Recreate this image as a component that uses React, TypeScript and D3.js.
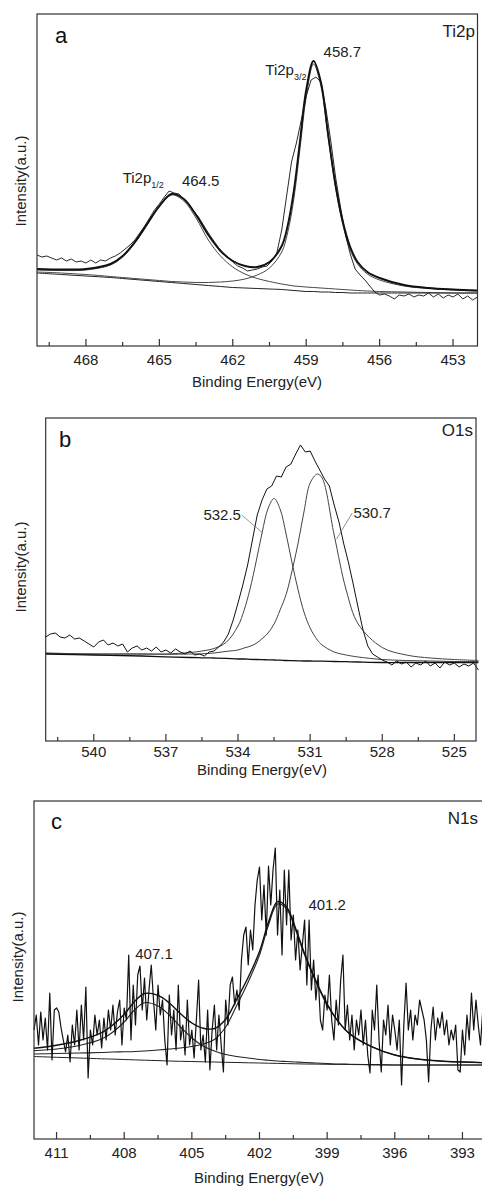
import React from 'react';
import * as d3 from 'd3';

// ---- (a) Ti2p ----
const tiRawStart = 470;
const tiRawStep = 0.2;
const tiRaw = [
  91, 89, 90, 88, 86, 88, 85, 87, 84, 85,
  83, 86, 83, 86, 85, 88, 90, 93, 97, 101,
  106, 113, 120, 128, 136, 142, 149, 155, 153, 152,
  147, 142, 135, 129, 121, 113, 106, 99, 93, 89,
  84, 80, 78, 75, 76, 77, 79, 80, 85, 93,
  116, 150, 184, 203, 226, 250, 266, 269, 264, 238,
  206, 169, 139, 112, 92, 77, 71, 66, 60, 54,
  51, 52, 50, 47, 51, 50, 52, 49, 51, 50,
  53, 49, 52, 48, 51, 49, 52, 47, 50, 46,
  49,
];
const tiFitBE = [470, 469, 468, 467, 466.5, 466, 465.5, 465, 464.5, 464, 463.5, 463, 462.5, 462, 461.5, 461, 460.5, 460, 459.75, 459.5, 459.25, 459, 458.7, 458.4, 458.1, 457.8, 457.5, 457.2, 456.9, 456.5, 456, 455, 454, 453, 452];
const tiEnvelope = [77, 76.5, 77, 82, 90, 104, 122, 140, 152, 147, 131, 111, 95, 85, 80, 79, 84, 100, 121, 156, 206, 256, 285, 264, 211, 161, 124, 99, 84, 74, 68, 61, 58, 56.5, 55.5];
const ti464 = [76, 75.5, 76, 81, 89, 103, 121, 139, 151, 145, 128, 106, 90, 79, 72, 67.5, 64.5, 62, 61, 60, 59.5, 59, 58.5, 58, 57.5, 57, 56.5, 56, 55.5, 55, 54.5, 54, 53.5, 53, 53];
const ti458 = [74, 73, 71.5, 69.5, 68.5, 67.5, 66.5, 65.5, 64.5, 64, 63.5, 63.5, 64, 65, 67, 71, 78, 94, 114, 148, 198, 249, 282, 260, 208, 158, 121, 96, 82, 72, 66, 60, 57.5, 56, 55];
const tiBackground = [73, 71.5, 70, 68.5, 67.5, 66.5, 65.5, 64.5, 63.5, 62.5, 61.5, 60.5, 59.5, 58.5, 58, 57.5, 57, 56.5, 56, 55.5, 55, 54.5, 54.5, 54, 54, 53.5, 53.5, 53, 53, 53, 53, 53, 53, 53, 53];
const tiTicks = [468, 465, 462, 459, 456, 453];
const tiMinor = [469.5, 466.5, 463.5, 460.5, 457.5, 454.5];

// ---- (b) O1s ----
const oRawStart = 542;
const oRawStep = 0.2;
const oRaw = [
  104, 107, 108, 104, 103, 106, 102, 103, 100, 97,
  94, 99, 101, 96, 98, 95, 97, 89, 93, 95,
  91, 93, 90, 94, 89, 91, 88, 92, 89, 87,
  90, 86, 87, 85, 89, 90, 94, 99, 107, 121,
  138, 156, 176, 201, 226, 241, 252, 255, 265, 264,
  274, 277, 287, 296, 289, 290, 280, 271, 262, 255,
  236, 219, 197, 178, 156, 133, 111, 95, 87, 84,
  81, 79, 76, 80, 77, 79, 74, 78, 76, 80,
  75, 78, 73, 79, 76, 78, 74, 77, 75, 78,
  71,
];
const oFitBE = [542, 540, 538, 537, 536, 535.5, 535, 534.5, 534, 533.75, 533.5, 533.25, 533, 532.75, 532.5, 532.25, 532, 531.75, 531.5, 531.25, 531, 530.7, 530.5, 530, 529.5, 529, 528, 527, 526, 525, 524];
const o532 = [88, 87, 87, 87, 88.5, 90, 92.5, 98.5, 115, 130.5, 152, 179, 208, 232.5, 242.5, 232, 207, 178, 151, 128.5, 113, 101, 96, 89, 86, 84, 81.5, 80.5, 80, 79.5, 79.5];
const o530 = [87.7, 87, 87, 86.7, 87, 87.2, 88, 89.6, 91, 93, 94.7, 97.5, 102.3, 108, 117, 131, 146.5, 170.4, 198, 230, 258, 267, 263, 206, 151, 117, 93.5, 86, 83, 81.5, 80.5];
const oBackground = [87, 86, 85, 84.2, 83.5, 83.2, 83, 82.6, 82, 82, 81.7, 81.5, 81.3, 81.2, 81, 80.9, 80.5, 80.4, 80.2, 80, 80, 79.9, 79.8, 79.5, 79.3, 79, 78.5, 78.5, 78.5, 78.5, 78.5];
const oTicks = [540, 537, 534, 531, 528, 525];
const oMinor = [541.5, 538.5, 535.5, 532.5, 529.5, 526.5];

// ---- (c) N1s ----
const nRawStart = 412;
const nRawStep = 0.1;
const nRaw = [
  110, 125, 95, 128, 100, 122, 90, 147, 80, 130,
  132, 128, 112, 100, 88, 105, 78, 115, 95, 130,
  90, 135, 100, 153, 62, 110, 95, 125, 105, 120,
  92, 122, 100, 130, 110, 135, 105, 128, 140, 95,
  132, 120, 185, 100, 155, 115, 165, 174, 130, 162,
  120, 150, 175, 140, 110, 155, 125, 140, 100, 75,
  145, 105, 130, 90, 155, 100, 115, 85, 140, 95,
  110, 82, 120, 160, 90, 105, 78, 130, 70, 110,
  135, 90, 125, 95, 68, 140, 115, 155, 163, 135,
  150, 130, 180, 205, 213, 175, 210, 190, 235, 260,
  273, 220, 255, 205, 274, 235, 270, 292, 205, 250,
  185, 270, 215, 270, 200, 225, 180, 210, 170, 195,
  220, 155, 220, 150, 180, 140, 165, 120, 110, 145,
  130, 165, 120, 100, 140, 115, 160, 185, 110, 135,
  100, 125, 90, 120, 105, 130, 95, 120, 85, 67,
  130, 110, 155, 100, 68, 120, 105, 135, 95, 125,
  110, 90, 120, 55, 115, 157, 110, 130, 100, 125,
  115, 140, 130, 120, 100, 58, 110, 133, 100, 122,
  112, 128, 105, 120, 95, 110, 100, 115, 70, 68,
  110, 85, 125, 100, 147, 110, 140, 115, 95, 130,
  110,
];
const nFitBE = [412, 411, 410, 409, 408.5, 408, 407.5, 407.1, 406.5, 406, 405.5, 405, 404.5, 404, 403.5, 403, 402.5, 402, 401.6, 401.2, 400.8, 400.4, 400, 399.5, 399, 398.5, 398, 397, 396, 395, 394, 393, 392];
const nEnvelope = [91.8, 94.8, 99.5, 107.3, 115.1, 125.7, 139.4, 146.5, 144.6, 137, 126.3, 117, 111.8, 111.5, 120.8, 141, 162.8, 188.5, 217.9, 238.4, 233.1, 211.8, 186.5, 159.1, 135.8, 118.4, 106.3, 93.2, 85, 81, 79, 78, 77.3];
const n407 = [89.3, 91, 94.5, 101, 108, 118, 131, 137.3, 134, 125, 113, 102, 94, 89, 85.5, 83.5, 82, 80.5, 79.7, 79, 78.5, 78, 77.5, 77, 76.5, 76, 75.8, 75.4, 75, 75, 75, 75, 75];
const n401 = [86, 86.5, 87, 87.5, 88, 88.2, 88.5, 89, 90, 91, 92, 93.5, 96, 100.5, 113, 135, 158, 185, 215, 236, 231, 210, 185, 158, 135, 118, 106, 93, 85, 81, 79, 78, 77.3];
const nBackground = [83.5, 82.7, 82, 81.2, 80.9, 80.5, 80.1, 79.8, 79.4, 79, 78.7, 78.5, 78.2, 78, 77.7, 77.5, 77.2, 77, 76.8, 76.6, 76.4, 76.2, 76, 75.9, 75.7, 75.6, 75.5, 75.2, 75, 75, 75, 75, 75];
const nTicks = [411, 408, 405, 402, 399, 396, 393];
const nMinor = [409.5, 406.5, 403.5, 400.5, 397.5, 394.5];

const FONT = '"Liberation Sans", Arial, Helvetica, sans-serif';
const INK = '#222';

type Fit = { v: number[]; color: string; width: number };
type PeakLabel = { be: number; v: number; text: string; sub?: string };
type Leader = { from: [number, number]; to: [number, number] };

type PanelSpec = {
  box: { left: number; top: number; right: number; bottom: number };
  xDomain: [number, number];
  yDomain: [number, number];
  raw: number[];
  rawStart: number;
  rawStep: number;
  rawWidth: number;
  fitBE: number[];
  fits: Fit[];
  ticks: number[];
  minor: number[];
  letter: string;
  letterPos: [number, number];
  element: string;
  elementPos: [number, number];
  tickBaseline: number;
  titleBaseline: number;
  titleX: number;
  yLabelPos: [number, number];
  peaks: PeakLabel[];
  leaders: Leader[];
};

const Panel = ({ p }: { p: PanelSpec }) => {
  const { left, top, right, bottom } = p.box;
  const x = d3.scaleLinear().domain(p.xDomain).range([left, right]);
  const y = d3.scaleLinear().domain(p.yDomain).range([bottom, top]);

  const rawPts: [number, number][] = p.raw.map((v, i) => [+(p.rawStart - i * p.rawStep).toFixed(2), v]);
  const lineRaw = d3.line<[number, number]>().x(d => x(d[0])).y(d => y(d[1]));
  const lineFit = d3.line<[number, number]>()
    .x(d => x(d[0]))
    .y(d => y(d[1]))
    .curve(d3.curveCatmullRom.alpha(0.5));

  return (
    <g>
      {p.fits.map((f, i) => (
        <path
          key={i}
          d={lineFit(p.fitBE.map((be, j) => [be, f.v[j]] as [number, number])) || ''}
          fill="none"
          stroke={f.color}
          strokeWidth={f.width}
        />
      ))}
      <path d={lineRaw(rawPts) || ''} fill="none" stroke="#111" strokeWidth={p.rawWidth} strokeLinejoin="round" />

      <rect x={left} y={top} width={right - left} height={bottom - top} fill="none" stroke="#333" strokeWidth={1.2} />

      {p.ticks.map(t => (
        <g key={t}>
          <line x1={x(t)} x2={x(t)} y1={bottom} y2={bottom - 7} stroke="#333" strokeWidth={1.2} />
          <text x={x(t)} y={p.tickBaseline} textAnchor="middle" fontSize={15} fill={INK}>{t}</text>
        </g>
      ))}
      {p.minor.map(t => (
        <line key={t} x1={x(t)} x2={x(t)} y1={bottom} y2={bottom - 4} stroke="#333" strokeWidth={1.2} />
      ))}

      <text x={p.titleX} y={p.titleBaseline} textAnchor="middle" fontSize={15} fill={INK}>Binding Energy(eV)</text>
      <text
        transform={`translate(${p.yLabelPos[0]},${p.yLabelPos[1]}) rotate(-90)`}
        textAnchor="middle"
        dominantBaseline="central"
        fontSize={15}
        fill={INK}
      >
        Intensity(a.u.)
      </text>

      <text x={p.letterPos[0]} y={p.letterPos[1]} fontSize={22} fill="#111">{p.letter}</text>
      <text x={p.elementPos[0]} y={p.elementPos[1]} textAnchor="end" fontSize={17} fill={INK}>{p.element}</text>

      {p.leaders.map((l, i) => (
        <line key={i} x1={x(l.from[0])} y1={y(l.from[1])} x2={x(l.to[0])} y2={y(l.to[1])} stroke="#777" strokeWidth={0.8} />
      ))}
      {p.peaks.map((pk, i) => (
        <text key={i} x={x(pk.be)} y={y(pk.v)} fontSize={15} fill={INK}>
          {pk.text}
          {pk.sub && <tspan fontSize={9} dy={4.5}>{pk.sub}</tspan>}
        </text>
      ))}
    </g>
  );
};

const panels: PanelSpec[] = [
  {
    box: { left: 37, top: 14, right: 477.5, bottom: 346 },
    xDomain: [470, 452],
    yDomain: [0, 332],
    raw: tiRaw,
    rawStart: tiRawStart,
    rawStep: tiRawStep,
    rawWidth: 0.9,
    fitBE: tiFitBE,
    fits: [
      { v: tiBackground, color: '#222', width: 1 },
      { v: ti458, color: '#333', width: 0.9 },
      { v: ti464, color: '#333', width: 0.9 },
      { v: tiEnvelope, color: '#111', width: 1.9 },
    ],
    ticks: tiTicks,
    minor: tiMinor,
    letter: 'a',
    letterPos: [55, 43],
    element: 'Ti2p',
    elementPos: [475, 37],
    tickBaseline: 365,
    titleBaseline: 387,
    titleX: 257,
    yLabelPos: [20, 181],
    peaks: [
      { be: 458.29, v: 289, text: '458.7' },
      { be: 460.67, v: 271, text: 'Ti2p', sub: '3/2' },
      { be: 466.5, v: 163, text: 'Ti2p', sub: '1/2' },
      { be: 464.08, v: 160, text: '464.5' },
    ],
    leaders: [],
  },
  {
    box: { left: 45.7, top: 418, right: 476, bottom: 741 },
    xDomain: [542, 524.1],
    yDomain: [0, 323],
    raw: oRaw,
    rawStart: oRawStart,
    rawStep: oRawStep,
    rawWidth: 1,
    fitBE: oFitBE,
    fits: [
      { v: o532, color: '#444', width: 1 },
      { v: o530, color: '#444', width: 1 },
      { v: oBackground, color: '#111', width: 1.3 },
    ],
    ticks: oTicks,
    minor: oMinor,
    letter: 'b',
    letterPos: [59, 447],
    element: 'O1s',
    elementPos: [473, 436],
    tickBaseline: 757,
    titleBaseline: 775,
    titleX: 262,
    yLabelPos: [20, 567],
    peaks: [
      { be: 535.44, v: 221, text: '532.5' },
      { be: 529.2, v: 223, text: '530.7' },
    ],
    leaders: [
      { from: [533.85, 226], to: [532.97, 208] },
      { from: [529.25, 228], to: [529.9, 202] },
    ],
  },
  {
    box: { left: 34, top: 801, right: 485, bottom: 1139 },
    xDomain: [412, 392],
    yDomain: [1, 339],
    raw: nRaw,
    rawStart: nRawStart,
    rawStep: nRawStep,
    rawWidth: 1.2,
    fitBE: nFitBE,
    fits: [
      { v: nBackground, color: '#222', width: 1 },
      { v: n407, color: '#222', width: 1.1 },
      { v: n401, color: '#222', width: 1.1 },
      { v: nEnvelope, color: '#111', width: 1.4 },
    ],
    ticks: nTicks,
    minor: nMinor,
    letter: 'c',
    letterPos: [51, 829],
    element: 'N1s',
    elementPos: [478, 824],
    tickBaseline: 1158,
    titleBaseline: 1183,
    titleX: 259,
    yLabelPos: [17, 957],
    peaks: [
      { be: 407.51, v: 181, text: '407.1' },
      { be: 399.83, v: 230, text: '401.2' },
    ],
    leaders: [],
  },
];

export default function App() {
  return (
    <svg
      width={482}
      height={1186}
      viewBox="0 0 482 1186"
      style={{ position: 'absolute', left: 0, top: 0, background: '#fff' }}
      fontFamily={FONT}
    >
      <rect width={482} height={1186} fill="#fff" />
      {panels.map((p, i) => <Panel key={i} p={p} />)}
    </svg>
  );
}
